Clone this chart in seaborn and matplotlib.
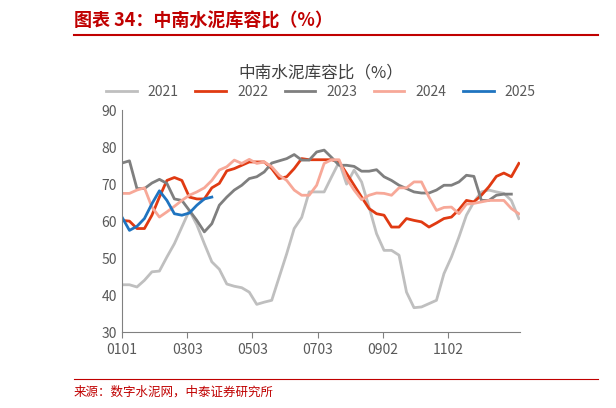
import matplotlib.pyplot as plt
import seaborn as sns
import pandas as pd
import numpy as np

plt.rcParams['font.sans-serif'] = ['Noto Sans CJK SC', 'DejaVu Sans']

# 周度数据（自年初起，每 7 天一个点）
y2021 = [42.8, 42.8, 42.2, 44, 46.3, 46.5, 50.3, 53.9, 58.4, 62.9, 59, 53.9, 49, 47, 43, 42.4, 42,
         40.8, 37.5, 38.1, 38.6, 44.9, 51.2, 58, 61, 67.9, 67.9, 67.9, 72, 76, 70, 73.8, 70.6, 63.8,
         56.6, 52.1, 52.1, 50.8, 40.8, 36.6, 36.8, 37.7, 38.6, 45.8, 50.3, 55.7, 61.6, 65.2, 67.9,
         68.4, 67.9, 67.5, 65.6, 60.7]
y2022 = [60.2, 60, 58, 58, 61.6, 66.5, 71, 71.8, 71, 66.5, 66, 66, 69, 70.2, 73.6, 74.2, 75.1, 76,
         76, 76, 74.2, 71.5, 72, 74.2, 76.9, 76.6, 76.6, 76.6, 76.6, 76, 72.9, 69.7, 66.5, 63.4, 62,
         61.6, 58.4, 58.4, 60.7, 60.2, 59.8, 58.4, 59.5, 60.7, 61.1, 63.1, 65.6, 65.2, 67, 69.3, 72.1,
         73, 72, 75.6]
y2023 = [75.7, 76.3, 68.8, 68.8, 70.3, 71.3, 70.2, 66, 65.6, 62.9, 60.2, 57.1, 59.3, 64.3, 66.5,
         68.4, 69.7, 71.5, 72, 73.3, 75.7, 76.3, 76.9, 78, 76.5, 76.5, 78.7, 79.2, 77.2, 75.1, 75.1,
         74.8, 73.5, 73.5, 73.9, 72, 71, 69.7, 68.8, 67.9, 67.6, 67.6, 68.4, 69.7, 69.7, 70.6, 72.4,
         72.1, 65.6, 65.6, 67, 67.3, 67.3]
y2024 = [67.5, 67.5, 68.4, 69, 63.8, 61.1, 62.5, 64, 65.6, 67, 67.9, 69, 71, 73.8, 74.7, 76.5, 75.6,
         76.7, 75.6, 76, 74.7, 72.4, 71, 68.4, 67, 67, 69.7, 75.6, 76.6, 76.6, 71.5, 68.4, 65.8, 67,
         67.6, 67.5, 67, 69, 69, 70.6, 70.6, 66.5, 62.9, 63.7, 63.8, 62, 64.6, 64.8, 65.2, 65.6, 65.6,
         65.6, 63.4, 62]
y2025 = [61.1, 57.5, 58.6, 60.7, 64.7, 68.2, 65.6, 62, 61.6, 62.2, 64.3, 66, 66.5]

tick_labels = ['0101', '0303', '0503', '0703', '0902', '1102']
tick_days = [0, 61, 122, 183, 244, 305]

series = {'2021': y2021, '2022': y2022, '2023': y2023, '2024': y2024, '2025': y2025}
colors = {'2021': '#bfbfbf', '2022': '#e03a12', '2023': '#7f7f7f', '2024': '#f7a898', '2025': '#1f74c0'}

rows = []
for year, vals in series.items():
    for i, v in enumerate(vals):
        rows.append({'day': i * 7, 'value': v, 'year': year})
df = pd.DataFrame(rows)

fig = plt.figure(figsize=(6.16, 4.08), dpi=100)
ax = fig.add_axes([0.198, 0.186, 0.646, 0.544])
sns.lineplot(data=df, x='day', y='value', hue='year', palette=colors, linewidth=2, ax=ax)

ax.set_xlim(0, 372)
ax.set_ylim(30, 90)
ax.set_yticks(range(30, 91, 10))
ax.set_xticks(tick_days)
ax.set_xticklabels(tick_labels)
ax.set_xlabel('')
ax.set_ylabel('')
ax.tick_params(labelsize=10, colors='#595959', length=0)
ax.xaxis.set_tick_params(length=4, direction='out', color='#808080')
for s in ['top', 'right']:
    ax.spines[s].set_visible(False)
for s in ['left', 'bottom']:
    ax.spines[s].set_color('#808080')

ax.legend(loc='lower center', bbox_to_anchor=(0.5, 0.995), ncol=5, frameon=False,
          fontsize=10, handlelength=2.2, columnspacing=1.2, labelcolor='#595959')
fig.text(0.52, 0.81, '中南水泥库容比（%）', ha='center', fontsize=12, color='#404040')

fig.text(0.12, 0.935, '图表 34：中南水泥库容比（%）', fontsize=13, color='#c00000',
         fontstyle='italic', fontweight='bold')
fig.add_artist(plt.Line2D([0.12, 0.97], [0.915, 0.915], color='#c00000', linewidth=1.5))
fig.add_artist(plt.Line2D([0.12, 0.97], [0.07, 0.07], color='#c00000', linewidth=0.8))
fig.text(0.12, 0.03, '来源：数字水泥网，中泰证券研究所', fontsize=9, color='#c00000')

fig.savefig('out.png', dpi=100)
